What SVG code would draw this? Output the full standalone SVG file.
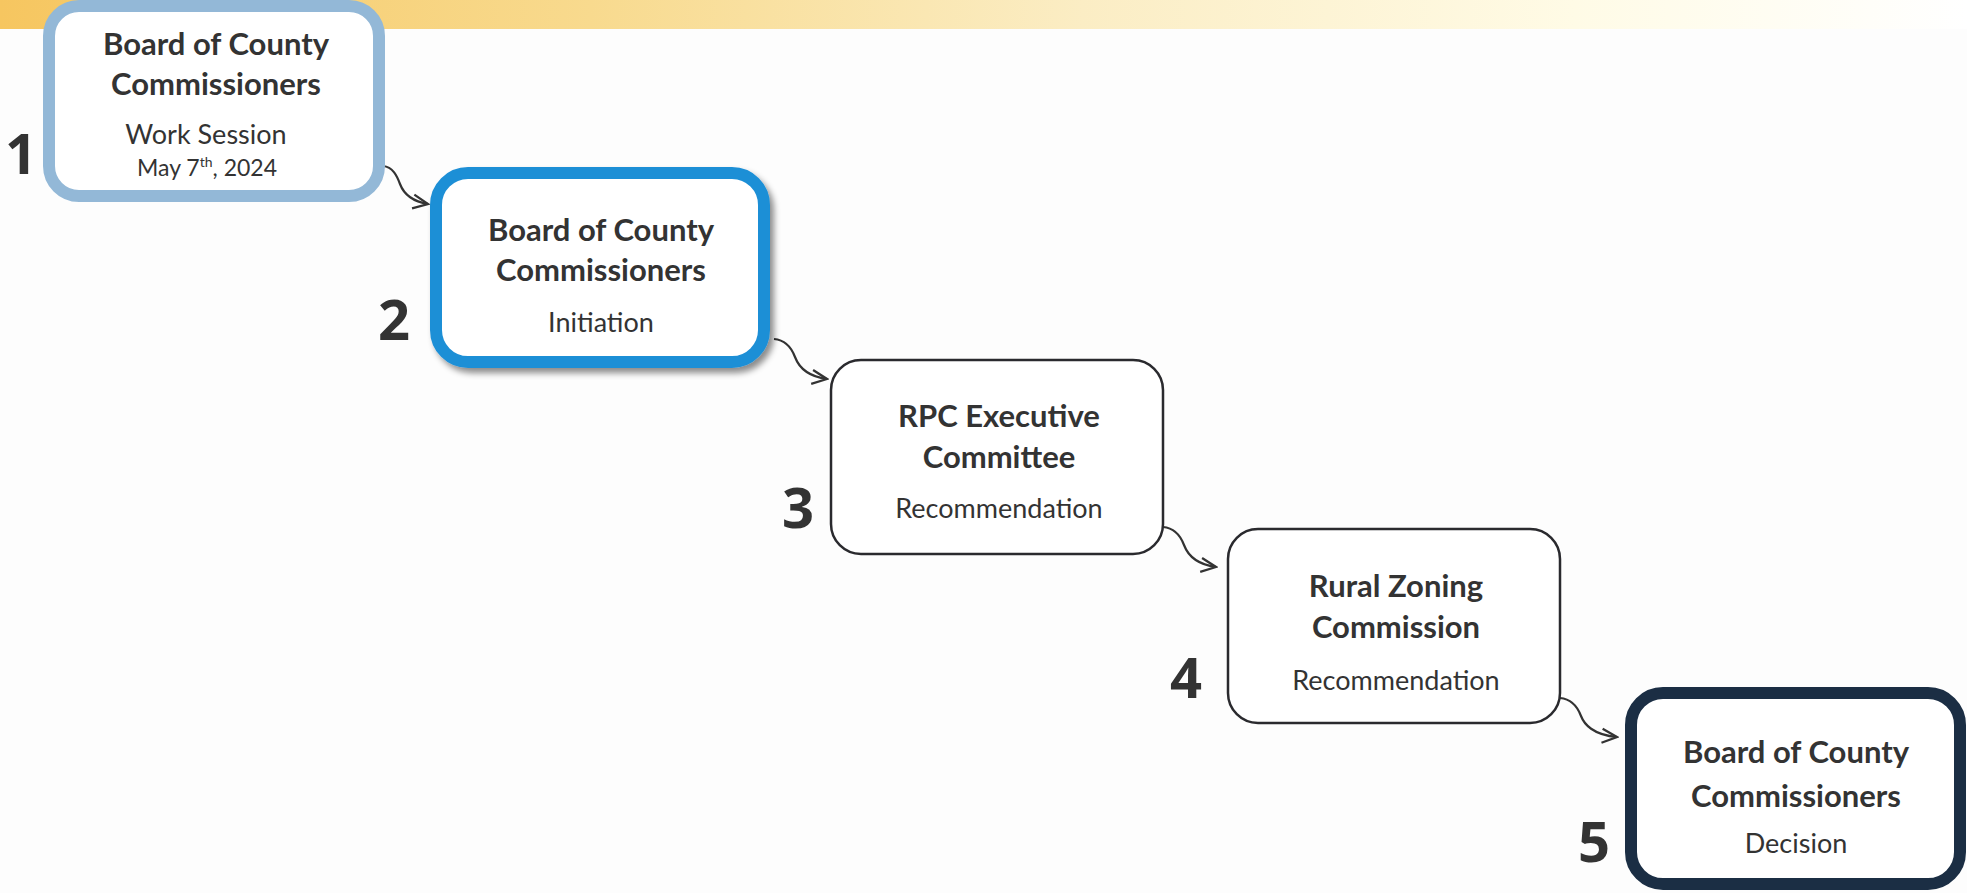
<svg xmlns="http://www.w3.org/2000/svg" width="1967" height="893" viewBox="0 0 1967 893">
<defs>
<linearGradient id="band" x1="0" y1="0" x2="1" y2="0">
<stop offset="0" stop-color="#f6c660"/>
<stop offset="0.3" stop-color="#f8da8e"/>
<stop offset="0.55" stop-color="#fbedc4"/>
<stop offset="0.8" stop-color="#fffbe6"/>
<stop offset="1" stop-color="#ffffff"/>
</linearGradient>
<filter id="shadow" x="-10%" y="-10%" width="125%" height="130%">
<feDropShadow dx="4" dy="5" stdDeviation="3" flood-color="#000" flood-opacity="0.45"/>
</filter>
<marker id="arrow" viewBox="0 0 20 20" refX="18" refY="10" markerWidth="20" markerHeight="20" markerUnits="userSpaceOnUse" orient="auto">
<path d="M3,3 L18,10 L3,17" fill="none" stroke="#333" stroke-width="2.3" stroke-linejoin="miter"/>
</marker>
<style>
.title{font-family:Lato,"Open Sans",sans-serif;font-weight:700;font-size:31px;fill:#333;text-anchor:middle}
.sub{font-family:Lato,"Open Sans",sans-serif;font-weight:400;font-size:27px;fill:#333;text-anchor:middle}
.date{font-family:Lato,"Open Sans",sans-serif;font-weight:400;font-size:23px;fill:#333;text-anchor:middle}
.num{font-family:"Open Sans","Noto Sans",sans-serif;font-weight:700;font-size:56px;fill:#333;text-anchor:middle}
.box{fill:#fff}
.conn{fill:none;stroke:#333;stroke-width:2.2;marker-end:url(#arrow)}
</style>
</defs>
<rect x="0" y="0" width="1967" height="893" fill="#fdfdfd"/>
<rect x="0" y="0" width="1967" height="29" fill="url(#band)"/>

<g id="connectors">
<path class="conn" d="M383,166 c10,1 14,10 17,18 c3,8 10,17 28,20"/>
<path class="conn" d="M774,339 c12,1 18,10 21,18 c3,8 10,19 32,22"/>
<path class="conn" d="M1163,527 c12,1 18,10 21,18 c3,8 10,19 32,22"/>
<path class="conn" d="M1560,698 c12,1 18,10 21,18 c3,8 12,19 36,21"/>
</g>

<g id="node1">
<rect class="box" x="49" y="6" width="330" height="190" rx="30" stroke="#93b8d7" stroke-width="12"/>
<text class="title" x="216" y="55">Board of County</text>
<text class="title" x="216" y="95">Commissioners</text>
<text class="sub" x="206" y="144">Work Session</text>
<text class="date" x="207" y="176">May 7<tspan font-size="14" dy="-9">th</tspan><tspan dy="9">, 2024</tspan></text>
<text class="num" x="21" y="174">1</text>
</g>

<g id="node2">
<rect class="box" x="436" y="173" width="328" height="189" rx="32" stroke="#1f8fd6" stroke-width="12" filter="url(#shadow)"/>
<text class="title" x="601" y="241">Board of County</text>
<text class="title" x="601" y="281">Commissioners</text>
<text class="sub" x="601" y="332">Initiation</text>
<text class="num" x="394" y="340">2</text>
</g>

<g id="node3">
<rect class="box" x="831" y="360" width="332" height="194" rx="30" stroke="#2a2a2e" stroke-width="2.5"/>
<text class="title" x="999" y="427">RPC Executive</text>
<text class="title" x="999" y="468">Committee</text>
<text class="sub" x="999" y="518">Recommendation</text>
<text class="num" x="798" y="528">3</text>
</g>

<g id="node4">
<rect class="box" x="1228" y="529" width="332" height="194" rx="30" stroke="#2a2a2e" stroke-width="2.5"/>
<text class="title" x="1396" y="597">Rural Zoning</text>
<text class="title" x="1396" y="638">Commission</text>
<text class="sub" x="1396" y="690">Recommendation</text>
<text class="num" x="1186" y="698">4</text>
</g>

<g id="node5">
<rect class="box" x="1631" y="693" width="329" height="191" rx="32" stroke="#1b2e44" stroke-width="12"/>
<text class="title" x="1796" y="763">Board of County</text>
<text class="title" x="1796" y="807">Commissioners</text>
<text class="sub" x="1796" y="853">Decision</text>
<text class="num" x="1594" y="862">5</text>
</g>
</svg>
